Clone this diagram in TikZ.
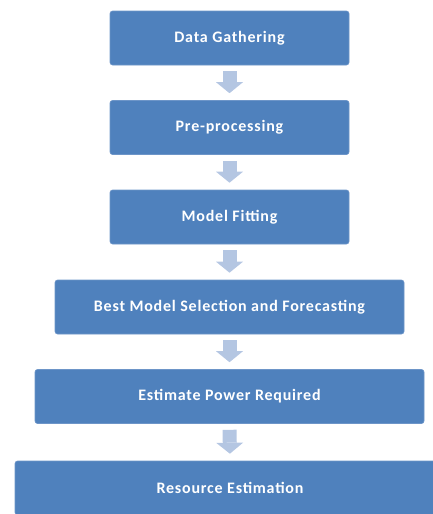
\documentclass[tikz,border=0pt]{standalone}
\usepackage{fontspec}
\usepackage{tikz}
\usetikzlibrary{arrows.meta}
\newfontfamily\boxfont{Carlito}[LetterSpace=5]
\definecolor{stageblue}{HTML}{4F81BD}
\definecolor{stageedge}{HTML}{6D95C8}
\definecolor{flowblue}{HTML}{B4C6E2}

\begin{document}
\begin{tikzpicture}[x=1pt,y=-1pt,
        stage/.style={rectangle, rounded corners=2.5pt, fill=stageblue, draw=stageedge, line width=0.6pt,
            text=white, font=\boxfont\bfseries\fontsize{16}{19}\selectfont, minimum height=54pt, inner sep=0pt},
        flow/.style={draw=flowblue, line width=14pt, shorten <=6pt, shorten >=7pt,
            -{Triangle[length=11pt,width=27pt,line width=0pt]}}]
            \useasboundingbox (0,0) rectangle (433,514);

            \node[stage, minimum width=239pt] (gather) at (229.5,38) {Data Gathering};
            \node[stage, minimum width=239pt] (prep) at (229.5,127.5) {Pre-processing};
            \node[stage, minimum width=239pt] (fit) at (229.5,217) {Model Fitting};
            \node[stage, minimum width=349pt] (select) at (229.5,307) {Best Model Selection and Forecasting};
            \node[stage, minimum width=389pt] (power) at (229.5,396.5) {Estimate Power Required};
            \node[stage, minimum width=430pt] (resource) at (230,488) {Resource Estimation};

            \foreach \a/\b in {gather/prep,prep/fit,fit/select,select/power,power/resource} {
                    \draw[flow] (\a.south) -- (\b.north);
                }
        \end{tikzpicture}
\end{document}
